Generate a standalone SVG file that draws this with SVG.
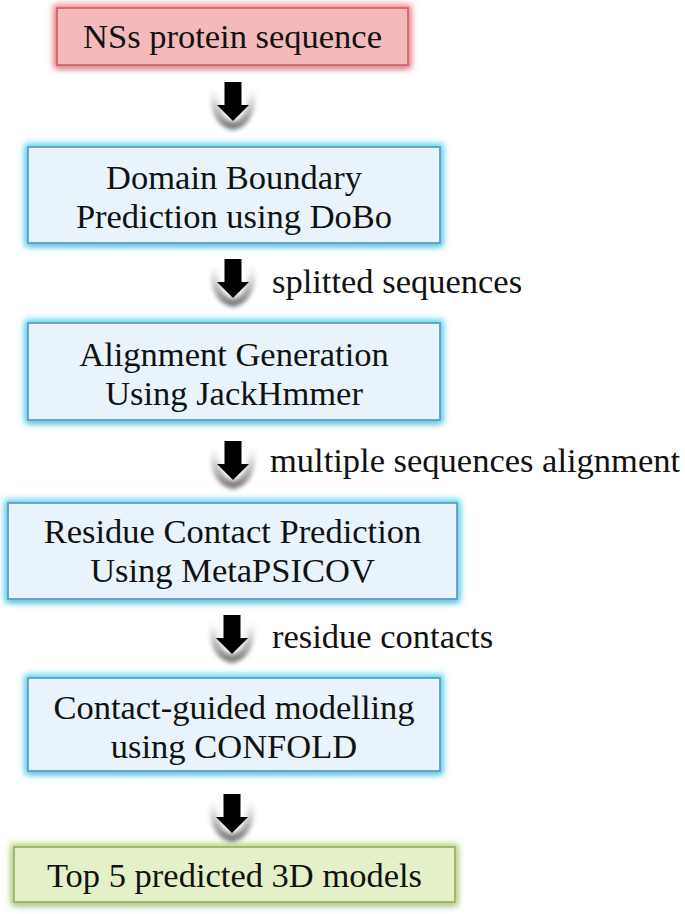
<svg xmlns="http://www.w3.org/2000/svg" width="685" height="914" viewBox="0 0 685 914">
<defs>
<style>
.t{font-family:"Liberation Serif","Times New Roman",serif;font-size:34.5px;fill:#111;text-anchor:middle}
.lbl{font-family:"Liberation Serif","Times New Roman",serif;font-size:34.5px;fill:#111}
.arrow{fill:#000}
.ash{fill:none;stroke:url(#shg);stroke-width:8;filter:url(#blur2)}
.bluefill{fill:#e8f3fb;stroke:#5f9fbf;stroke-width:1.8}
.blueglow{fill:none;stroke:#4fd0f2;stroke-width:7;filter:url(#blur3)}
.shadow{fill:#6a7a80;filter:url(#blur3);opacity:0.6}
</style>
<filter id="blur3" x="-20%" y="-40%" width="140%" height="180%"><feGaussianBlur stdDeviation="3"/></filter>
<filter id="blur2" x="-50%" y="-50%" width="200%" height="200%"><feGaussianBlur stdDeviation="2.2"/></filter>
<linearGradient id="shg" x1="0" y1="0" x2="0" y2="1">
<stop offset="0" stop-color="#ffffff" stop-opacity="0"/>
<stop offset="0.5" stop-color="#c0c0c0" stop-opacity="0.75"/>
<stop offset="1" stop-color="#7a7a7a" stop-opacity="1"/>
</linearGradient>
</defs>
<rect width="685" height="914" fill="#ffffff"/>

<g id="node-nss">
<rect x="57" y="11" width="351" height="57" class="shadow"/>
<rect x="57" y="8" width="351" height="57" fill="none" stroke="#f07a80" stroke-width="7" filter="url(#blur3)"/>
<rect x="57" y="8" width="351" height="57" fill="#f4b9ba" stroke="#c9686c" stroke-width="1.8"/>
<text class="t" x="232.5" y="48">NSs protein sequence</text>
</g>

<g id="node-dobo">
<rect x="28" y="150" width="412" height="96" class="shadow"/>
<rect x="28" y="147" width="412" height="96" class="blueglow"/>
<rect x="28" y="147" width="412" height="96" class="bluefill"/>
<text class="t" x="234" y="189">Domain Boundary</text>
<text class="t" x="234" y="228">Prediction using DoBo</text>
</g>

<g id="node-jackhmmer">
<rect x="28" y="326" width="412" height="97" class="shadow"/>
<rect x="28" y="323" width="412" height="97" class="blueglow"/>
<rect x="28" y="323" width="412" height="97" class="bluefill"/>
<text class="t" x="234" y="366">Alignment Generation</text>
<text class="t" x="234" y="405">Using JackHmmer</text>
</g>

<g id="node-metapsicov">
<rect x="8" y="506" width="449" height="96" class="shadow"/>
<rect x="8" y="503" width="449" height="96" class="blueglow"/>
<rect x="8" y="503" width="449" height="96" class="bluefill"/>
<text class="t" x="232.5" y="543">Residue Contact Prediction</text>
<text class="t" x="232.5" y="582">Using MetaPSICOV</text>
</g>

<g id="node-confold">
<rect x="28" y="681" width="412" height="93" class="shadow"/>
<rect x="28" y="678" width="412" height="93" class="blueglow"/>
<rect x="28" y="678" width="412" height="93" class="bluefill"/>
<text class="t" x="234" y="719">Contact-guided modelling</text>
<text class="t" x="234" y="758">using CONFOLD</text>
</g>

<g id="node-models">
<rect x="14" y="850" width="441" height="55" class="shadow"/>
<rect x="14" y="847" width="441" height="55" fill="none" stroke="#b5d27a" stroke-width="7" filter="url(#blur3)"/>
<rect x="14" y="847" width="441" height="55" fill="#e4f0c8" stroke="#9cb36c" stroke-width="1.8"/>
<text class="t" x="234.5" y="887">Top 5 predicted 3D models</text>
</g>

<g id="connectors">
<path class="ash" d="M214,84 Q212,122 233,126 Q254,122 252,84"/>
<path class="arrow" d="M224.5,82 H241.5 V105 H249 L233,121 L217,105 H224.5 Z"/>

<path class="ash" d="M214,261 Q212,299 233,303 Q254,299 252,261"/>
<path class="arrow" d="M224.5,259 H241.5 V282 H249 L233,298 L217,282 H224.5 Z"/>
<text class="lbl" x="272" y="293">splitted sequences</text>

<path class="ash" d="M214,443 Q212,481 233,485 Q254,481 252,443"/>
<path class="arrow" d="M224.5,441 H241.5 V464 H249 L233,480 L217,464 H224.5 Z"/>
<text class="lbl" x="270" y="472">multiple sequences alignment</text>

<path class="ash" d="M213,617 Q211,655 232,659 Q253,655 251,617"/>
<path class="arrow" d="M223.5,615 H240.5 V638 H248 L232,654 L216,638 H223.5 Z"/>
<text class="lbl" x="272" y="648">residue contacts</text>

<path class="ash" d="M213,796 Q211,834 232,838 Q253,834 251,796"/>
<path class="arrow" d="M223.5,794 H240.5 V817 H248 L232,833 L216,817 H223.5 Z"/>
</g>
</svg>
